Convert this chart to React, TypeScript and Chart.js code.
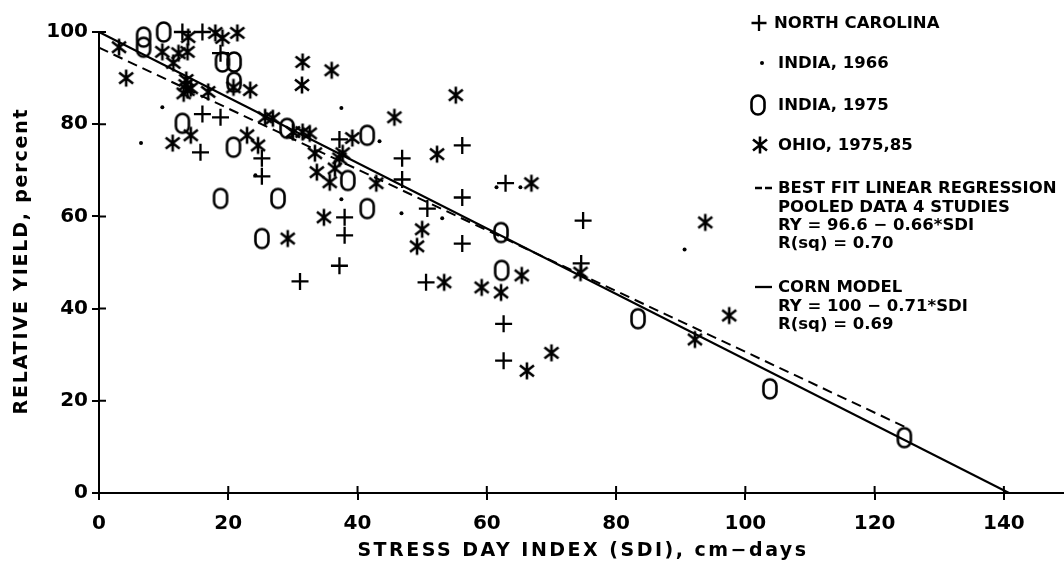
import React, { useEffect, useRef } from "react";
import { Chart, registerables } from "chart.js";
Chart.register(...registerables);

const xTicks = [0, 20, 40, 60, 80, 100, 120, 140];
const yTicks = [0, 20, 40, 60, 80, 100];
const xTitle = "STRESS DAY INDEX (SDI), cm\u2212days";
const yTitle = "RELATIVE YIELD, percent";

const northCarolina: number[][] = [
  [12.9, 100], [16.0, 100], [18.8, 95.4], [16.0, 82.2], [18.8, 81.5], [15.7, 73.9],
  [25.2, 72.6], [25.2, 68.7], [37.2, 76.7], [46.9, 72.6], [46.9, 68.0], [56.2, 75.4],
  [56.2, 64.1], [56.2, 54.1], [38.0, 59.8], [38.0, 55.9], [37.2, 49.3], [31.1, 45.9],
  [50.6, 45.7], [50.8, 61.7], [62.9, 67.2], [62.6, 36.7], [62.6, 28.7], [74.9, 59.1],
  [74.6, 49.8],
];
const india1966: number[][] = [
  [9.8, 83.7], [6.5, 75.9], [24.2, 68.9], [37.5, 83.5], [43.4, 76.3], [37.5, 63.7],
  [46.8, 60.7], [53.1, 59.6], [61.5, 66.3], [65.2, 66.3], [90.6, 52.8],
];
const india1975: number[][] = [
  [6.9, 98.9], [6.9, 96.7], [10.0, 100], [19.1, 93.5], [20.9, 93.5], [20.9, 89.1],
  [12.9, 80.2], [20.8, 75.0], [18.8, 63.9], [27.7, 63.9], [25.2, 55.2], [29.1, 79.1],
  [38.5, 67.8], [41.5, 77.6], [41.5, 61.7], [62.2, 56.5], [62.3, 48.3], [83.4, 37.8],
  [103.8, 22.6], [124.6, 12.0],
];
const ohio: number[][] = [
  [3.1, 96.7], [4.2, 90.0], [9.8, 95.7], [11.5, 93.3], [12.3, 95.4], [13.7, 95.7],
  [13.8, 98.9], [18.0, 99.8], [19.1, 98.7], [21.4, 99.8], [13.4, 88.5], [13.7, 87.4],
  [13.1, 86.7], [14.2, 87.8], [13.5, 89.6], [16.9, 87.0], [20.8, 88.0], [23.4, 87.4],
  [11.4, 75.9], [14.2, 77.6], [22.9, 77.6], [24.6, 75.4], [29.2, 55.2], [31.5, 93.5],
  [31.4, 88.5], [36.0, 91.7], [25.7, 81.5], [26.9, 81.3], [30.0, 78.3], [31.5, 78.3],
  [32.6, 78.0], [33.4, 73.7], [33.7, 69.6], [35.7, 67.4], [36.5, 70.4], [37.2, 72.6],
  [37.7, 73.7], [39.2, 77.0], [42.9, 67.2], [45.7, 81.5], [52.3, 73.5], [55.2, 86.3],
  [66.9, 67.2], [34.8, 59.8], [50.0, 57.2], [49.2, 53.5], [53.4, 45.7], [59.2, 44.6],
  [62.2, 43.5], [65.4, 47.2], [70.0, 30.4], [66.2, 26.5], [93.8, 58.7], [74.5, 47.8],
  [92.2, 33.3], [97.5, 38.5],
];
const bestFitLine: number[][] = [[0, 96.6], [124.6, 14.4]];
const cornModelLine: number[][] = [[0, 100], [140.8, 0]];

const legendItems = [
  { sym: "plus", y: 23, lines: ["NORTH CAROLINA"] },
  { sym: "dot", y: 63, lines: ["INDIA, 1966"] },
  { sym: "o", y: 105, lines: ["INDIA, 1975"] },
  { sym: "star", y: 145, lines: ["OHIO, 1975,85"] },
  { sym: "dash", y: 188, lines: ["BEST FIT LINEAR REGRESSION", "POOLED DATA 4 STUDIES", "RY = 96.6 \u2212 0.66*SDI", "R(sq) = 0.70"] },
  { sym: "solid", y: 287, lines: ["CORN MODEL", "RY = 100 \u2212 0.71*SDI", "R(sq) = 0.69"] },
];

const FONT = '"DejaVu Sans", sans-serif';

function makeO(): HTMLCanvasElement {
  const c = document.createElement("canvas");
  c.width = 18; c.height = 24;
  const g = c.getContext("2d")!;
  g.strokeStyle = "#000"; g.lineWidth = 2.6;
  g.beginPath();
  (g as any).roundRect(2.5, 2.5, 13, 19, 6.5);
  g.stroke();
  return c;
}
function makeStar(): HTMLCanvasElement {
  const c = document.createElement("canvas");
  c.width = 20; c.height = 20;
  const g = c.getContext("2d")!;
  g.strokeStyle = "#000"; g.lineWidth = 2.6; g.lineCap = "butt";
  g.beginPath();
  g.moveTo(10, 1.5); g.lineTo(10, 18.5);
  g.moveTo(3, 4.5); g.lineTo(17, 15.5);
  g.moveTo(3, 15.5); g.lineTo(17, 4.5);
  g.stroke();
  return c;
}
const toXY = (a: number[][]) => a.map(([x, y]) => ({ x, y }));

export default function App() {
  const ref = useRef<HTMLCanvasElement>(null);
  useEffect(() => {
    if (!ref.current) return;
    const oImg = makeO();
    const starImg = makeStar();
    const overlay = {
      id: "overlay",
      afterDraw(chart: any) {
        const { ctx, chartArea, scales } = chart;
        ctx.save();
        ctx.strokeStyle = "#000"; ctx.fillStyle = "#000"; ctx.lineWidth = 2;
        ctx.beginPath();
        for (const v of yTicks) {
          const py = scales.y.getPixelForValue(v);
          ctx.moveTo(chartArea.left, py); ctx.lineTo(chartArea.left + 7, py);
        }
        for (const v of xTicks) {
          const px = scales.x.getPixelForValue(v);
          ctx.moveTo(px, chartArea.bottom); ctx.lineTo(px, chartArea.bottom - 7);
        }
        ctx.stroke();
        ctx.font = `bold 19px ${FONT}`;
        ctx.textAlign = "center"; ctx.textBaseline = "middle";
        (ctx as any).letterSpacing = "2.5px";
        ctx.fillText(xTitle, 583, 551);
        ctx.save();
        ctx.translate(22, 261); ctx.rotate(-Math.PI / 2);
        (ctx as any).letterSpacing = "1.8px";
        ctx.fillText(yTitle, 0, 0);
        ctx.restore();
        (ctx as any).letterSpacing = "0px";
        // legend
        ctx.font = `bold 16.5px ${FONT}`;
        ctx.textAlign = "left";
        for (const it of legendItems) {
          const sx = 761, sy = it.y;
          ctx.lineWidth = 2.3;
          if (it.sym === "plus") {
            const px = sx - 2;
            ctx.beginPath(); ctx.moveTo(px - 7.5, sy); ctx.lineTo(px + 7.5, sy);
            ctx.moveTo(px, sy - 8); ctx.lineTo(px, sy + 8); ctx.stroke();
          } else if (it.sym === "dot") {
            ctx.beginPath(); ctx.arc(sx + 1, sy, 2, 0, Math.PI * 2); ctx.fill();
          } else if (it.sym === "o") {
            ctx.drawImage(oImg, sx - 3 - oImg.width / 2, sy - oImg.height / 2);
          } else if (it.sym === "star") {
            ctx.drawImage(starImg, sx - 1 - starImg.width / 2, sy - starImg.height / 2);
          } else if (it.sym === "dash") {
            ctx.beginPath(); ctx.moveTo(755, sy); ctx.lineTo(762, sy);
            ctx.moveTo(765, sy); ctx.lineTo(772, sy); ctx.stroke();
          } else if (it.sym === "solid") {
            ctx.beginPath(); ctx.moveTo(755, sy); ctx.lineTo(772, sy); ctx.stroke();
          }
          const tx = it.sym === "plus" ? 774 : 778;
          it.lines.forEach((t, i) => ctx.fillText(t, tx, sy + 1 + i * 18.3));
        }
        ctx.restore();
      },
    };
    const chart = new Chart(ref.current, {
      type: "scatter",
      data: {
        datasets: [
          { label: "NORTH CAROLINA", data: toXY(northCarolina), pointStyle: "cross", pointRadius: 8.5, borderColor: "#000", borderWidth: 2.3, clip: false } as any,
          { label: "INDIA, 1966", data: toXY(india1966), pointStyle: "circle", pointRadius: 2, backgroundColor: "#000", borderWidth: 0, clip: false },
          { label: "INDIA, 1975", data: toXY(india1975), pointStyle: oImg, pointRadius: 8, clip: false },
          { label: "OHIO, 1975,85", data: toXY(ohio), pointStyle: starImg, pointRadius: 8, clip: false },
          { label: "BEST FIT", data: toXY(bestFitLine), showLine: true, pointRadius: 0, borderColor: "#000", borderWidth: 2, borderDash: [10, 6], clip: false },
          { label: "CORN MODEL", data: toXY(cornModelLine), showLine: true, pointRadius: 0, borderColor: "#000", borderWidth: 2, clip: false },
        ],
      },
      options: {
        animation: false,
        responsive: false,
        devicePixelRatio: 1,
        layout: { autoPadding: false, padding: { top: 32, left: 0, right: 0, bottom: 0 } },
        plugins: { legend: { display: false }, tooltip: { enabled: false } },
        scales: {
          x: {
            type: "linear", min: 0, max: 149.3,
            afterBuildTicks: (s: any) => { s.ticks = xTicks.map((v) => ({ value: v })); },
            afterFit: (s: any) => { s.height = 76; s.paddingRight = 0; s.paddingLeft = 0; },
            ticks: { font: { family: FONT, weight: "bold", size: 20 }, color: "#000", padding: 12, maxRotation: 0, autoSkip: false },
            grid: { drawOnChartArea: false, tickLength: 7, color: "#000", lineWidth: 2 },
            border: { color: "#000", width: 2 },
          },
          y: {
            type: "linear", min: 0, max: 100,
            afterBuildTicks: (s: any) => { s.ticks = yTicks.map((v) => ({ value: v })); },
            afterFit: (s: any) => { s.width = 99; s.paddingTop = 0; s.paddingBottom = 0; },
            ticks: { font: { family: FONT, weight: "bold", size: 20 }, color: "#000", padding: 4 },
            grid: { drawOnChartArea: false, tickLength: 7, color: "#000", lineWidth: 2 },
            border: { color: "#000", width: 2 },
          },
        },
      } as any,
      plugins: [overlay],
    });
    return () => chart.destroy();
  }, []);
  return (
    <div style={{ position: "fixed", left: 0, top: 0, width: 1064, height: 569, background: "#fff" }}>
      <canvas ref={ref} width={1064} height={569} />
    </div>
  );
}
